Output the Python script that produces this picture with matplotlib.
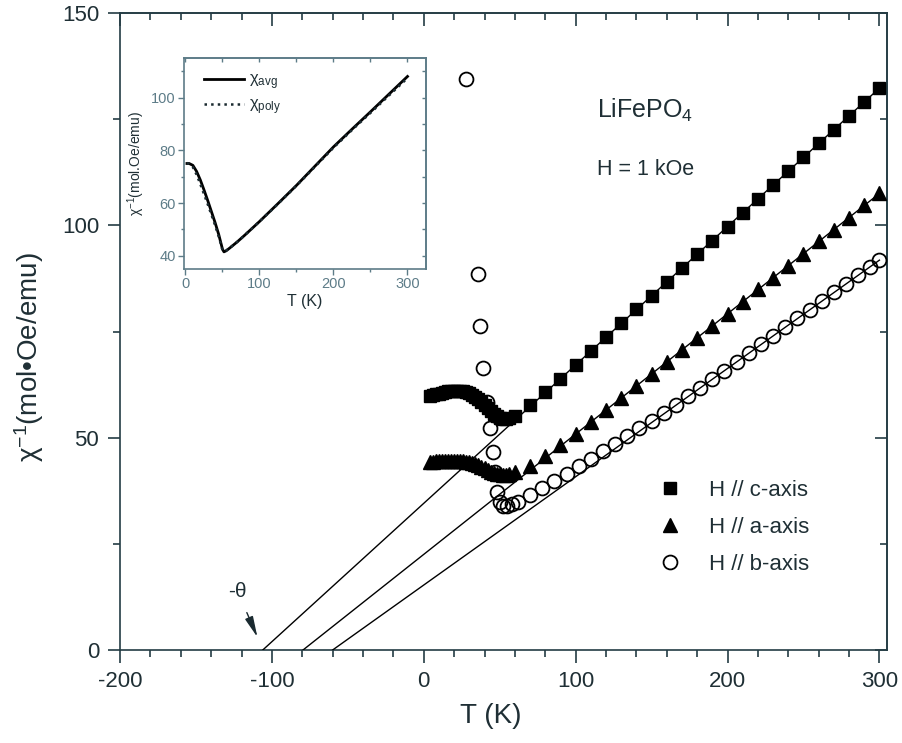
import numpy as np
import matplotlib.pyplot as plt
from matplotlib.ticker import MultipleLocator

plt.rcParams['font.family'] = ['Liberation Sans', 'DejaVu Sans']
plt.rcParams['mathtext.fontset'] = 'custom'
plt.rcParams['mathtext.rm'] = 'Liberation Sans'
plt.rcParams['mathtext.it'] = 'Liberation Sans:italic'
plt.rcParams['axes.unicode_minus'] = False

# ---- main data: H // c-axis (squares)
T_c = [4, 6, 8, 10, 12, 14, 16, 18, 20, 22, 24, 26, 28, 30, 32, 34, 36, 38, 40, 42, 44, 46,
       48, 50, 52, 54, 56,
       60, 70, 80, 90, 100, 110, 120, 130, 140, 150, 160, 170, 180, 190, 200, 210, 220,
       230, 240, 250, 260, 270, 280, 290, 300]
chi_c = [59.8, 60.0, 60.2, 60.4, 60.6, 60.8, 60.9, 61.0, 61.1, 61.1, 61.1, 61.0, 60.8, 60.5,
         60.1, 59.6, 59.0, 58.3, 57.6, 56.9, 56.2, 55.5, 55.0, 54.6, 54.4, 54.4, 54.6,
         55.0, 57.6, 60.7, 63.9, 67.1, 70.4, 73.6, 76.9, 80.2, 83.4, 86.7, 89.9, 93.2, 96.4,
         99.7, 103.0, 106.2, 109.5, 112.7, 116.0, 119.3, 122.5, 125.8, 129.0, 132.3]

# H // a-axis (triangles)
T_a = [4, 6, 8, 10, 12, 14, 16, 18, 20, 22, 24, 26, 28, 30, 32, 34, 36, 38, 40, 42, 44, 46,
       48, 50, 52, 54, 56,
       60, 70, 80, 90, 100, 110, 120, 130, 140, 150, 160, 170, 180, 190, 200, 210, 220,
       230, 240, 250, 260, 270, 280, 290, 300]
chi_a = [44.2, 44.3, 44.4, 44.4, 44.5, 44.5, 44.5, 44.5, 44.5, 44.5, 44.4, 44.4, 44.3, 44.2,
         44.0, 43.8, 43.5, 43.2, 42.8, 42.4, 42.0, 41.7, 41.5, 41.4, 41.3, 41.3, 41.5,
         41.9, 43.4, 45.7, 48.3, 50.9, 53.7, 56.5, 59.4, 62.2, 65.0, 67.9, 70.7, 73.5, 76.4,
         79.2, 82.0, 84.9, 87.7, 90.5, 93.3, 96.2, 99.0, 101.8, 104.7, 107.5]

# H // b-axis (open circles)
T_b = [28, 35.5, 37, 39, 41.5, 43.5, 45.5, 47, 48.5, 50, 52, 55, 58,
       62, 70, 78, 86, 94, 102, 110, 118, 126, 134, 142, 150, 158, 166, 174, 182, 190,
       198, 206, 214, 222, 230, 238, 246, 254, 262, 270, 278, 286, 294, 300]
chi_b = [134.5, 88.5, 76.3, 66.5, 58.5, 52.2, 46.6, 41.8, 37.3, 34.8, 33.8, 33.9, 34.3,
         34.8, 36.4, 38.1, 39.8, 41.5, 43.3, 45.0, 46.8, 48.6, 50.4, 52.2, 54.0, 55.8,
         57.8, 59.8, 61.8, 63.8, 65.8, 67.9, 69.9, 72.0, 74.0, 76.0, 78.1, 80.1, 82.2,
         84.2, 86.2, 88.3, 90.3, 91.8]

# Curie-Weiss fits: intercept (-theta) and value at 300 K
fit_T = {'c': [-106, 300], 'a': [-79.5, 300], 'b': [-60, 300]}
fit_chi = {'c': [0, 132.3], 'a': [0, 107.5], 'b': [0, 91.8]}

# ---- inset data
T_in = [2, 5, 10, 15, 20, 25, 30, 35, 40, 45, 50, 52, 55, 60, 70, 80, 90, 100, 125, 150,
        175, 200, 225, 250, 275, 300]
chi_avg = [75.0, 75.0, 74.3, 72.0, 68.8, 65.0, 61.0, 56.8, 52.6, 48.0, 42.5, 41.5, 41.9,
           43.0, 45.3, 47.8, 50.4, 53.0, 59.8, 66.7, 74.0, 81.3, 88.0, 94.6, 101.3, 108.0]
chi_poly = [75.2, 74.8, 73.6, 70.8, 67.2, 63.4, 59.6, 55.6, 51.6, 47.2, 42.2, 41.6, 42.0,
            43.0, 45.3, 47.8, 50.4, 53.0, 59.7, 66.6, 73.8, 81.0, 87.7, 94.2, 100.8, 107.4]

txt = '#1f2f35'
spine = '#243c44'

fig = plt.figure(figsize=(9.03, 7.43), dpi=100)
ax = fig.add_axes([120/903, 1-650/743, 767/903, 637/743])

ax.plot(T_c, chi_c, 's', color='black', ms=9, mec='black', zorder=3, label='H // c-axis')
ax.plot(T_a, chi_a, '^', color='black', ms=10, mec='black', zorder=3, label='H // a-axis')
ax.plot(T_b, chi_b, 'o', mfc='none', mec='black', ms=10, mew=1.3, zorder=3,
        label='H // b-axis')
for k in ['c', 'a', 'b']:
    ax.plot(fit_T[k], fit_chi[k], '-', color='black', lw=1.0, zorder=4)

ax.set_xlim(-200, 305)
ax.set_ylim(0, 150)
ax.xaxis.set_major_locator(MultipleLocator(100))
ax.xaxis.set_minor_locator(MultipleLocator(20))
ax.yaxis.set_major_locator(MultipleLocator(50))
ax.yaxis.set_minor_locator(MultipleLocator(25))
ax.tick_params(which='major', direction='out', length=9, width=1.2, color=spine,
               labelsize=16, labelcolor=txt, pad=6)
ax.tick_params(which='minor', direction='out', length=5, width=1.2, color=spine)
for s in ax.spines.values():
    s.set_color(spine)
    s.set_linewidth(1.2)

# mirrored ticks pointing inwards on top and right
top = ax.secondary_xaxis('top')
top.xaxis.set_major_locator(MultipleLocator(100))
top.xaxis.set_minor_locator(MultipleLocator(20))
top.tick_params(which='major', direction='in', length=9, width=1.2, color=spine, labeltop=False)
top.tick_params(which='minor', direction='in', length=5, width=1.2, color=spine)
right = ax.secondary_yaxis('right')
right.yaxis.set_major_locator(MultipleLocator(50))
right.yaxis.set_minor_locator(MultipleLocator(25))
right.tick_params(which='major', direction='in', length=9, width=1.2, color=spine, labelright=False)
right.tick_params(which='minor', direction='in', length=5, width=1.2, color=spine)
for sa in (top, right):
    for s in sa.spines.values():
        s.set_color(spine)
        s.set_linewidth(1.2)

ax.set_xlabel('T (K)', fontsize=20, color=txt)
ax.xaxis.set_label_coords((491-120)/767, -(703-650)/637)
ax.set_ylabel('χ$^{\\mathregular{-1}}$(mol•Oe/emu)', fontsize=20, color=txt)
ax.yaxis.set_label_coords(-(120-46)/767, (650-357)/637)

ax.text((597-120)/767, (650-118)/637, 'LiFePO$_\\mathregular{4}$', transform=ax.transAxes,
        fontsize=18, color=txt, va='baseline', ha='left')
ax.text((597-120)/767, (650-175)/637, 'H = 1 kOe', transform=ax.transAxes,
        fontsize=15.5, color=txt, va='baseline', ha='left')

ax.annotate('-θ', xy=(-109.5, 3.0), xytext=(-122.5, 13.8), fontsize=15, color=txt,
            ha='center', va='center',
            arrowprops=dict(arrowstyle='-|>,head_width=0.18,head_length=0.9', color='#1a2a30',
                            lw=1.0, shrinkA=7, shrinkB=0, mutation_scale=14))

ax.legend(loc='upper left', bbox_to_anchor=((660-120)/767, (650-480)/637), frameon=False,
          numpoints=1, handlelength=0.9, handletextpad=1.3, labelspacing=0.72,
          borderpad=0, borderaxespad=0, fontsize=16, labelcolor=txt)

# ---- inset
ins_col = '#5d7c88'
axi = fig.add_axes([184/903, 1-269/743, 242/903, 211/743])
axi.plot(T_in, chi_avg, '-', color='black', lw=2.0, label='χ$_\\mathregular{avg}$')
axi.plot(T_in, chi_poly, ':', color='#1a2a30', lw=1.8, label='χ$_\\mathregular{poly}$')
axi.set_xlim(-2, 325)
axi.set_ylim(35, 115)
axi.xaxis.set_major_locator(MultipleLocator(100))
axi.xaxis.set_minor_locator(MultipleLocator(50))
axi.yaxis.set_major_locator(MultipleLocator(20))
axi.yaxis.set_minor_locator(MultipleLocator(10))
axi.tick_params(which='major', direction='out', length=4, width=1, color=ins_col,
                labelsize=10.5, labelcolor=ins_col, pad=2)
axi.tick_params(which='minor', direction='out', length=2, width=1, color=ins_col)
for s in axi.spines.values():
    s.set_color(ins_col)
    s.set_linewidth(1.2)
itop = axi.secondary_xaxis('top')
itop.xaxis.set_major_locator(MultipleLocator(100))
itop.xaxis.set_minor_locator(MultipleLocator(50))
itop.tick_params(which='both', direction='in', length=3, width=1, color=ins_col, labeltop=False)
iright = axi.secondary_yaxis('right')
iright.yaxis.set_major_locator(MultipleLocator(20))
iright.yaxis.set_minor_locator(MultipleLocator(10))
iright.tick_params(which='both', direction='in', length=3, width=1, color=ins_col,
                   labelright=False)
for sa in (itop, iright):
    for s in sa.spines.values():
        s.set_color(ins_col)
        s.set_linewidth(1.2)
axi.set_xlabel('T (K)', fontsize=11.5, color=txt, labelpad=2)
axi.set_ylabel('χ$^{\\mathregular{-1}}$(mol.Oe/emu)', fontsize=10, color=txt, labelpad=3)
axi.legend(loc='upper left', bbox_to_anchor=(0.05, 0.97), frameon=False, fontsize=12,
           handlelength=2.4, handletextpad=0.3, labelspacing=0.3, borderpad=0,
           labelcolor=txt)

fig.savefig('out.png', dpi=100)
